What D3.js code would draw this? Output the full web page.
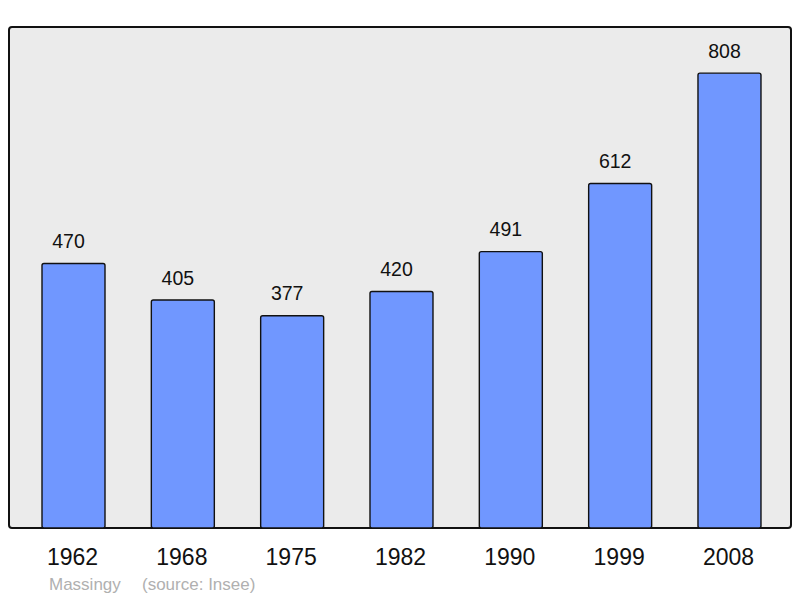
<!DOCTYPE html>
<html><head><meta charset="utf-8">
<script src="https://cdn.jsdelivr.net/npm/d3@7"></script>
<style>body{margin:0;background:#fff}svg{display:block}</style>
</head><body>
<svg id="c" width="800" height="598"></svg>
<script>
const years = ["1962","1968","1975","1982","1990","1999","2008"];
const population = [470,405,377,420,491,612,808];
const place = "Massingy";
const source = "(source: Insee)";

const svg = d3.select("#c");
const frame = {x0:9, y0:27, x1:791, y1:528};
const font = "Liberation Sans, Arial, sans-serif";

svg.append("rect").attr("x",frame.x0).attr("y",frame.y0)
  .attr("width",frame.x1-frame.x0).attr("height",frame.y1-frame.y0)
  .attr("rx",3).attr("fill","#ebebeb").attr("stroke","#111").attr("stroke-width",2);

const y = d3.scaleLinear().domain([0,890]).range([frame.y1, frame.y0]);

const step = 109.33, bw = 63, start = 42;
const xs = d3.scalePoint().domain(years).range([start, start+step*6]);

svg.selectAll("rect.bar").data(years).enter().append("rect").attr("class","bar")
  .attr("x",d=>xs(d)).attr("y",(d,i)=>y(population[i]))
  .attr("width",bw).attr("height",(d,i)=>y(0)-y(population[i]))
  .attr("rx",2).attr("fill","#7097ff").attr("stroke","#111").attr("stroke-width",1.4);

svg.selectAll("text.val").data(years).enter().append("text").attr("class","val")
  .attr("x",d=>xs(d)+bw/2-5).attr("y",(d,i)=>y(population[i])-15.5)
  .attr("text-anchor","middle").attr("font-family",font)
  .attr("font-size",19.5).attr("fill","#111").text((d,i)=>population[i]);

const ax = svg.append("g").attr("transform",`translate(0,${frame.y1})`)
  .call(d3.axisBottom(d3.scalePoint().domain(years).range([start+bw/2-1.5, start+bw/2-1.5+step*6])).tickSize(0).tickPadding(0));
ax.select(".domain").remove();
ax.selectAll("text").attr("dy",null).attr("y",37).attr("font-family",font).attr("font-size",23).attr("fill","#111");

svg.append("text").attr("x",49).attr("y",589.5).attr("font-family",font)
  .attr("font-size",17).attr("fill","#b0b0b0").text(place);
svg.append("text").attr("x",142).attr("y",589.5).attr("font-family",font)
  .attr("font-size",17).attr("fill","#b0b0b0").text(source);
</script>
</body></html>
